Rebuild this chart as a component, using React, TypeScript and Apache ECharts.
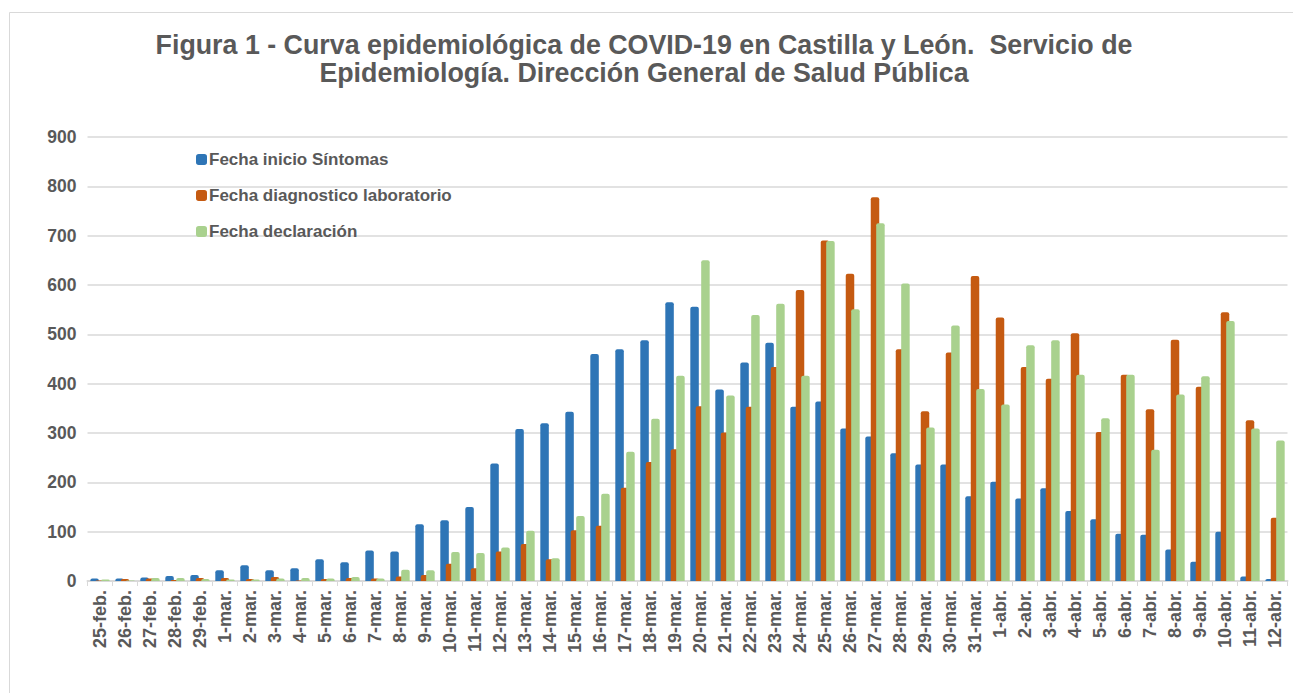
import React, { useEffect, useRef } from "react";
import * as echarts from "echarts";

const categories = [
  "25-feb.", "26-feb.", "27-feb.", "28-feb.", "29-feb.",
  "1-mar.", "2-mar.", "3-mar.", "4-mar.", "5-mar.", "6-mar.", "7-mar.", "8-mar.", "9-mar.", "10-mar.",
  "11-mar.", "12-mar.", "13-mar.", "14-mar.", "15-mar.", "16-mar.", "17-mar.", "18-mar.", "19-mar.", "20-mar.",
  "21-mar.", "22-mar.", "23-mar.", "24-mar.", "25-mar.", "26-mar.", "27-mar.", "28-mar.", "29-mar.", "30-mar.",
  "31-mar.",
  "1-abr.", "2-abr.", "3-abr.", "4-abr.", "5-abr.", "6-abr.", "7-abr.", "8-abr.", "9-abr.", "10-abr.",
  "11-abr.", "12-abr.",
];

const inicioSintomas = [
  5, 5, 7, 10, 12,
  22, 32, 22, 26, 44, 38, 62, 60, 115, 123,
  150, 238, 308, 320, 343, 460, 470, 488, 565, 556,
  388, 443, 483, 353, 364, 309, 293, 259, 236, 236,
  172,
  201, 167, 188, 142, 125, 96, 94, 64, 39, 100,
  9, 4,
];

const diagnosticoLab = [
  1, 4, 5, 2, 6,
  6, 4, 8, 1, 4, 6, 5, 9, 12, 35,
  26, 60, 75, 44, 103, 112, 189, 241, 267, 354,
  301, 353, 434, 590, 690, 623, 778, 470, 344, 463,
  618,
  534, 434, 410, 502, 302, 418, 348, 489, 394, 545,
  326, 128,
];

const declaracion = [
  3, 1, 6, 6, 4,
  3, 3, 5, 6, 5, 8, 5, 23, 22, 59,
  57, 68, 102, 46, 132, 177, 262, 329, 416, 650,
  376, 539, 562, 416, 689, 551, 725, 603, 311, 518,
  389,
  358, 478, 488, 418, 330, 418, 266, 378, 415, 527,
  309, 285,
];

const yTicks = { min: 0, max: 900, interval: 100 };

const GREY = "#595959";
const LINE = "#d9d9d9";
const FONT = "'Liberation Sans', Arial, sans-serif";

export default function App() {
  const ref = useRef<HTMLDivElement>(null);
  useEffect(() => {
    if (!ref.current) return;
    const chart = echarts.init(ref.current, undefined, { renderer: "svg" });
    const barCommon = {
      type: "bar" as const,
      barWidth: 8.5,
      barGap: "-36%",
      itemStyle: { borderRadius: [2, 2, 0, 0] },
    };
    chart.setOption({
      animation: false,
      backgroundColor: "#ffffff",
      textStyle: { fontFamily: FONT },
      graphic: [
        {
          type: "rect",
          shape: { x: 9.5, y: 12.5, width: 1300, height: 700 },
          style: { fill: "none", stroke: LINE, lineWidth: 1 },
          silent: true,
        },
      ],
      title: {
        text:
          "Figura 1 - Curva epidemiológica de COVID-19 en Castilla y León.  Servicio de\nEpidemiología. Dirección General de Salud Pública",
        left: 639,
        textAlign: "center",
        top: 26,
        textStyle: {
          fontFamily: FONT,
          fontSize: 26.8,
          fontWeight: "bold",
          color: GREY,
          lineHeight: 28,
        },
      },
      legend: {
        orient: "vertical",
        left: 191,
        top: 146,
        itemWidth: 11,
        itemHeight: 11,
        itemGap: 19,
        icon: "roundRect",
        textStyle: { fontFamily: FONT, fontSize: 17, fontWeight: "bold", color: GREY, padding: [0, 0, 0, -3] },
        data: ["Fecha inicio Síntomas", "Fecha diagnostico laboratorio", "Fecha declaración"],
      },
      grid: { left: 87.5, right: 5.5, top: 137, bottom: 112, containLabel: false },
      xAxis: {
        type: "category",
        data: categories,
        axisLine: { lineStyle: { color: LINE, width: 2 } },
        axisTick: { show: true, alignWithLabel: false, length: 5, lineStyle: { color: LINE, width: 1 } },
        axisLabel: {
          interval: 0,
          rotate: 90,
          margin: 9,
          fontFamily: FONT,
          fontSize: 18,
          fontWeight: "bold",
          color: GREY,
        },
      },
      yAxis: {
        type: "value",
        min: yTicks.min,
        max: yTicks.max,
        interval: yTicks.interval,
        axisLine: { show: false },
        axisTick: { show: false },
        splitLine: { lineStyle: { color: LINE, width: 1.5 } },
        axisLabel: { margin: 11, fontFamily: FONT, fontSize: 17.5, fontWeight: "bold", color: GREY },
      },
      series: [
        { ...barCommon, name: "Fecha inicio Síntomas", data: inicioSintomas, itemStyle: { ...barCommon.itemStyle, color: "#2E75B6" } },
        { ...barCommon, name: "Fecha diagnostico laboratorio", data: diagnosticoLab, itemStyle: { ...barCommon.itemStyle, color: "#C55A11" } },
        { ...barCommon, name: "Fecha declaración", data: declaracion, itemStyle: { ...barCommon.itemStyle, color: "#A9D18E" } },
      ],
    });
    return () => chart.dispose();
  }, []);
  return (
    <div
      ref={ref}
      style={{ position: "fixed", left: 0, top: 0, width: 1293, height: 693, background: "#fff" }}
    />
  );
}
